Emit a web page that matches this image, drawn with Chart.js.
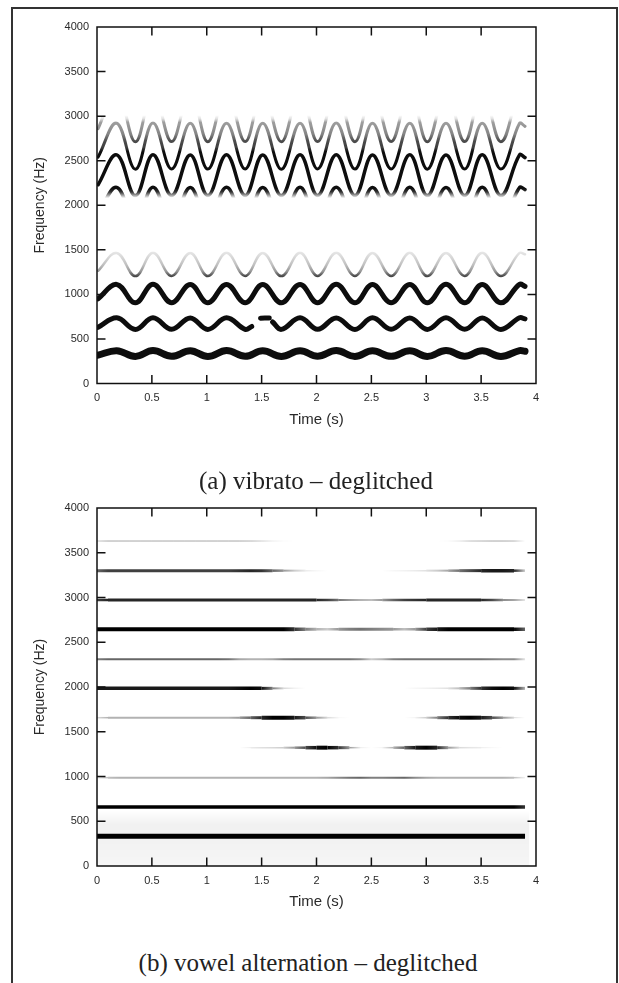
<!DOCTYPE html>
<html><head><meta charset="utf-8">
<script src="https://cdn.jsdelivr.net/npm/chart.js@4/dist/chart.umd.min.js"></script>
<style>
html,body{margin:0;padding:0;background:#fff;}
body{width:619px;height:983px;position:relative;overflow:hidden;}
#frame{position:absolute;left:11px;top:7px;width:607px;height:1000px;border:2px solid #333;box-sizing:border-box;}
canvas{position:absolute;left:0;}
.cap{position:absolute;font-family:"Liberation Serif","Times New Roman",serif;font-size:25px;color:#222;white-space:nowrap;transform:translate(-50%,-50%);}
</style></head><body>
<div id="frame"></div>
<canvas id="ca" width="619" height="445" style="top:0px"></canvas>
<canvas id="cb" width="619" height="445" style="top:470px"></canvas>
<div class="cap" style="left:316px;top:481px">(a) vibrato – deglitched</div>
<div class="cap" style="left:308px;top:963px">(b) vowel alternation – deglitched</div>
<script>
// ---------------- DATA ----------------
const xTickLabels = ['0','0.5','1','1.5','2','2.5','3','3.5','4'];
const yTickLabels = ['0','500','1000','1500','2000','2500','3000','3500','4000'];

// (a) vibrato: trough / crest times (s) of the harmonic tracks
const vibTimes = [0.01,0.18,0.35,0.51,0.68,0.85,1.01,1.18,1.35,1.51,1.68,1.85,2.01,2.18,2.35,2.51,2.68,2.85,3.01,3.18,3.35,3.51,3.68,3.85,3.90];
const vibH1 = [318,368,304,369,305,368,303,369,305,367,304,368,305,369,304,368,305,368,304,369,305,368,304,369,362];
const vibH2Times = [0.01,0.18,0.35,0.51,0.68,0.85,1.01,1.18,1.35,1.41,1.45,1.49,1.57,1.585,1.60,1.68,1.85,2.01,2.18,2.35,2.51,2.68,2.85,3.01,3.18,3.35,3.51,3.68,3.85,3.90];
const vibH2 = [630,737,607,738,608,736,607,737,608,640,null,733,735,null,690,607,737,608,736,607,737,608,736,607,737,608,736,607,737,725];
const vibH3 = [950,1112,905,1113,907,1111,905,1112,906,1110,905,1112,906,1113,905,1111,906,1112,905,1113,906,1111,905,1112,1090];
const vibH4 = [1265,1465,1205,1467,1207,1464,1206,1466,1207,1465,1205,1466,1207,1467,1206,1465,1207,1466,1205,1465,1207,1466,1206,1465,1450];
const vibH6 = [1900,2200,1810,2202,1812,2199,1811,2201,1812,2200,1810,2201,1812,2202,1811,2200,1812,2201,1810,2200,1812,2201,1811,2200,2175];
const vibH7 = [2230,2565,2108,2567,2110,2564,2109,2566,2110,2565,2108,2566,2110,2567,2109,2565,2110,2566,2108,2565,2110,2566,2109,2565,2535];
const vibH8 = [2540,2920,2405,2922,2407,2919,2406,2921,2407,2920,2405,2921,2407,2922,2406,2920,2407,2921,2405,2920,2407,2921,2406,2920,2885];
const vibH9 = [2860,3290,2712,3292,2714,3289,2713,3291,2714,3290,2712,3291,2714,3292,2713,3290,2714,3291,2712,3290,2714,3291,2713,3290,3250];

// (b) vowel alternation: harmonic frequencies (Hz) and their strength over time
const vowelTimes = [0.0,0.1,0.2,0.3,0.4,0.5,0.6,0.7,0.8,0.9,1.0,1.1,1.2,1.3,1.4,1.5,1.6,1.7,1.8,1.9,2.0,2.1,2.2,2.3,2.4,2.5,2.6,2.7,2.8,2.9,3.0,3.1,3.2,3.3,3.4,3.5,3.6,3.7,3.8,3.9];
const vowelFreq = [332,659,987,1322,1657,1985,2310,2645,2972,3300,3631];
const levelH1 = [1,1,1,1,1,1,1,1,1,1,1,1,1,1,1,1,1,1,1,1,1,1,1,1,1,1,1,1,1,1,1,1,1,1,1,1,1,1,1,1];
const levelH2 = [1,1,1,1,1,1,1,1,1,1,1,1,1,1,1,1,1,1,1,1,1,1,1,1,1,1,1,1,1,1,1,1,1,1,1,1,1,1,1,0.8];
const levelH3 = [0.1,0.25,0.3,0.3,0.3,0.3,0.3,0.3,0.3,0.3,0.3,0.3,0.3,0.3,0.3,0.3,0.3,0.3,0.3,0.3,0.3,0.35,0.45,0.55,0.6,0.5,0.5,0.55,0.6,0.45,0.35,0.3,0.3,0.3,0.3,0.3,0.3,0.3,0.25,0.05];
const levelH4 = [0,0,0,0,0,0,0,0,0,0,0,0,0,0,0.08,0.12,0.15,0.2,0.4,0.7,0.95,1,0.8,0.4,0.08,0,0.05,0.3,0.6,0.9,1,0.85,0.4,0.15,0.1,0.08,0.03,0,0,0];
const levelH5 = [0.15,0.3,0.3,0.3,0.3,0.3,0.3,0.3,0.3,0.3,0.3,0.3,0.3,0.4,0.6,0.85,1,1,0.9,0.7,0.4,0.15,0.03,0,0,0,0,0,0,0.05,0.2,0.5,0.8,0.95,1,0.9,0.7,0.4,0.15,0];
const levelH6 = [0.9,0.9,0.9,0.9,0.9,0.9,0.9,0.9,0.9,0.9,0.9,0.9,0.9,0.95,1,0.95,0.5,0.15,0.05,0,0,0,0,0,0,0,0,0,0,0.03,0.05,0.08,0.12,0.25,0.5,0.8,0.95,1,0.95,0.3];
const levelH7 = [0.5,0.6,0.6,0.6,0.6,0.6,0.6,0.6,0.6,0.6,0.6,0.6,0.55,0.35,0.3,0.3,0.35,0.5,0.55,0.55,0.55,0.55,0.55,0.55,0.45,0.2,0.3,0.5,0.55,0.55,0.55,0.55,0.55,0.55,0.55,0.55,0.5,0.45,0.45,0.1];
const levelH8 = [1,1,1,1,1,1,1,1,1,1,1,1,1,1,1,1,1,1,0.8,0.5,0.3,0.2,0.4,0.5,0.55,0.5,0.45,0.4,0.25,0.4,0.75,0.9,1,1,1,1,1,1,1,0.6];
const levelH9 = [0.75,0.85,0.85,0.85,0.85,0.85,0.85,0.85,0.85,0.85,0.85,0.85,0.85,0.85,0.85,0.85,0.85,0.85,0.85,0.85,0.85,0.75,0.55,0.4,0.3,0.25,0.4,0.6,0.75,0.8,0.85,0.85,0.85,0.85,0.85,0.85,0.7,0.45,0.35,0.1];
const levelH10 = [0.6,0.75,0.75,0.75,0.75,0.75,0.75,0.75,0.75,0.75,0.75,0.75,0.75,0.8,0.85,0.8,0.6,0.4,0.2,0.08,0.03,0,0,0,0,0,0,0.03,0.05,0.08,0.12,0.2,0.35,0.55,0.7,0.85,0.9,0.9,0.85,0.2];
const levelH11 = [0.2,0.35,0.35,0.35,0.35,0.35,0.35,0.35,0.35,0.35,0.35,0.35,0.35,0.35,0.3,0.2,0.08,0.02,0,0,0,0,0,0,0,0,0,0,0,0,0,0,0.02,0.1,0.25,0.3,0.35,0.35,0.3,0];
// low-frequency background noise floor in (b)
const noiseTimes = [0.0,3.94];
const noiseTop = [620,620];

// ---------------- STYLE ----------------
const FONT = '"Liberation Sans", Arial, sans-serif';
const TXT = '#2a2a2a';
// spectral envelope shading for (a): frequency (Hz) -> darkness
const envFreq  = [0,1150,1215,1260,1330,1420,1470,1500,2080,2110,2150,2190,2600,2650,2720,2800,2870,2930,2970,3010,4000];
const envLevel = [0.95,0.95,0.65,0.4,0.25,0.15,0.1,0,0,0.35,0.8,0.95,0.95,0.75,0.7,0.48,0.42,0.38,0.12,0,0];
const vibWidths = [7,5,5,2.5,3.5,3.5,3,3];
const vowelWMin = [5,3.5,1.5,1,1,1.5,1.5,2,1.5,1.5,1];
const vowelWMax = [5,3.5,2.5,4,4,3.5,2.5,4,3,3.5,1.5];

const framePlugin = {
  id: 'gnuframe',
  afterDatasetsDraw(chart) {
    const {ctx, chartArea: a, scales: {x, y}} = chart;
    ctx.save();
    ctx.strokeStyle = '#111';
    ctx.lineWidth = 1.5;
    ctx.strokeRect(a.left, a.top, a.right - a.left, a.bottom - a.top);
    const L = 8.5;
    ctx.beginPath();
    x.ticks.forEach(t => {
      const px = x.getPixelForValue(t.value);
      if (px <= a.left + 1 || px >= a.right - 1) return;
      ctx.moveTo(px, a.bottom); ctx.lineTo(px, a.bottom - L);
      ctx.moveTo(px, a.top); ctx.lineTo(px, a.top + L);
    });
    y.ticks.forEach(t => {
      const py = y.getPixelForValue(t.value);
      if (py <= a.top + 1 || py >= a.bottom - 1) return;
      ctx.moveTo(a.left, py); ctx.lineTo(a.left + L, py);
      ctx.moveTo(a.right, py); ctx.lineTo(a.right - L, py);
    });
    ctx.stroke();
    ctx.restore();
  }
};

function scalesCfg(xH) {
  return {
    x: {
      type: 'linear', min: 0, max: 4,
      afterFit: s => { s.height = xH; },
      grid: {display: false, drawTicks: false, tickLength: 0},
      border: {display: false},
      ticks: {stepSize: 0.5, padding: 8, maxRotation: 0, autoSkip: false, color: TXT,
        font: {family: FONT, size: 11}, callback: (v, i) => xTickLabels[i]},
      title: {display: true, text: 'Time (s)', color: TXT, font: {family: FONT, size: 15}, padding: {top: 0, bottom: 0}}
    },
    y: {
      min: 0, max: 4000,
      afterFit: s => { s.width = 97; },
      grid: {display: false, drawTicks: false, tickLength: 0},
      border: {display: false},
      ticks: {stepSize: 500, padding: 8, autoSkip: false, color: TXT,
        font: {family: FONT, size: 11}, callback: (v, i) => yTickLabels[i]},
      title: {display: true, text: 'Frequency (Hz)', color: TXT, font: {family: FONT, size: 14}, padding: {top: 31.6, bottom: 0}}
    }
  };
}

function envelopeGradient(c) {
  const chart = c.chart;
  if (!chart.chartArea || !chart.scales.y) return 'rgba(0,0,0,0.9)';
  const y = chart.scales.y;
  const g = chart.ctx.createLinearGradient(0, y.getPixelForValue(0), 0, y.getPixelForValue(4000));
  envFreq.forEach((f, i) => g.addColorStop(f / 4000, 'rgba(0,0,0,' + envLevel[i] + ')'));
  return g;
}

// ---------------- CHART (a) ----------------
const vibTracks = [
  [vibTimes, vibH1], [vibH2Times, vibH2], [vibTimes, vibH3], [vibTimes, vibH4],
  [vibTimes, vibH6], [vibTimes, vibH7], [vibTimes, vibH8], [vibTimes, vibH9]
];
const vibDatasets = vibTracks.map((tr, k) => ({
  data: tr[0].map((t, i) => ({x: t, y: tr[1][i]})),
  borderColor: envelopeGradient,
  borderWidth: vibWidths[k],
  tension: 0.4,
  spanGaps: false,
  pointRadius: 0,
  fill: false,
  borderCapStyle: 'round'
}));

new Chart(document.getElementById('ca'), {
  type: 'line',
  data: {datasets: vibDatasets},
  options: {
    responsive: false, animation: false, devicePixelRatio: 1,
    layout: {padding: {left: 0, right: 83, top: 27, bottom: 16.5}},
    plugins: {legend: {display: false}, tooltip: {enabled: false}},
    elements: {point: {radius: 0}},
    scales: scalesCfg(45)
  },
  plugins: [framePlugin]
});

// ---------------- CHART (b) ----------------
const vowelLevels = [levelH1, levelH2, levelH3, levelH4, levelH5, levelH6, levelH7, levelH8, levelH9, levelH10, levelH11];
const gradCache = new Map();
function levelGradient(chart, level) {
  if (gradCache.has(level)) return gradCache.get(level);
  const x = chart.scales.x;
  const x0 = x.getPixelForValue(vowelTimes[0]);
  const x1 = x.getPixelForValue(vowelTimes[vowelTimes.length - 1]);
  const g = chart.ctx.createLinearGradient(x0, 0, x1, 0);
  vowelTimes.forEach((t, i) => g.addColorStop((x.getPixelForValue(t) - x0) / (x1 - x0), 'rgba(0,0,0,' + level[i] + ')'));
  gradCache.set(level, g);
  return g;
}
function segStyle(level, wMin, wMax) {
  return {
    borderColor: c => levelGradient(c.chart, level),
    borderWidth: c => {
      const w = wMin + (wMax - wMin) * (level[c.p0DataIndex] + level[c.p1DataIndex]) / 2;
      return Math.round(w * 2) / 2;
    }
  };
}
const vowelDatasets = vowelFreq.map((f, k) => ({
  data: vowelTimes.map(t => ({x: t, y: f})),
  borderColor: '#000',
  borderWidth: vowelWMax[k],
  segment: segStyle(vowelLevels[k], vowelWMin[k], vowelWMax[k]),
  tension: 0,
  pointRadius: 0,
  fill: false,
  borderCapStyle: 'butt'
}));
vowelDatasets.push({
  data: noiseTimes.map((t, i) => ({x: t, y: noiseTop[i]})),
  borderWidth: 0,
  borderColor: 'rgba(0,0,0,0)',
  pointRadius: 0,
  fill: 'origin',
  backgroundColor: c => {
    const chart = c.chart;
    if (!chart.chartArea || !chart.scales.y) return 'rgba(0,0,0,0.04)';
    const y = chart.scales.y;
    const g = chart.ctx.createLinearGradient(0, y.getPixelForValue(0), 0, y.getPixelForValue(620));
    g.addColorStop(0, 'rgba(0,0,0,0.035)');
    g.addColorStop(0.45, 'rgba(0,0,0,0.05)');
    g.addColorStop(0.75, 'rgba(0,0,0,0.055)');
    g.addColorStop(1, 'rgba(0,0,0,0)');
    return g;
  }
});

new Chart(document.getElementById('cb'), {
  type: 'line',
  data: {datasets: vowelDatasets},
  options: {
    responsive: false, animation: false, devicePixelRatio: 1,
    layout: {padding: {left: 0, right: 83, top: 38, bottom: 4}},
    plugins: {legend: {display: false}, tooltip: {enabled: false}},
    elements: {point: {radius: 0}},
    scales: scalesCfg(45)
  },
  plugins: [framePlugin]
});
</script>
</body></html>
